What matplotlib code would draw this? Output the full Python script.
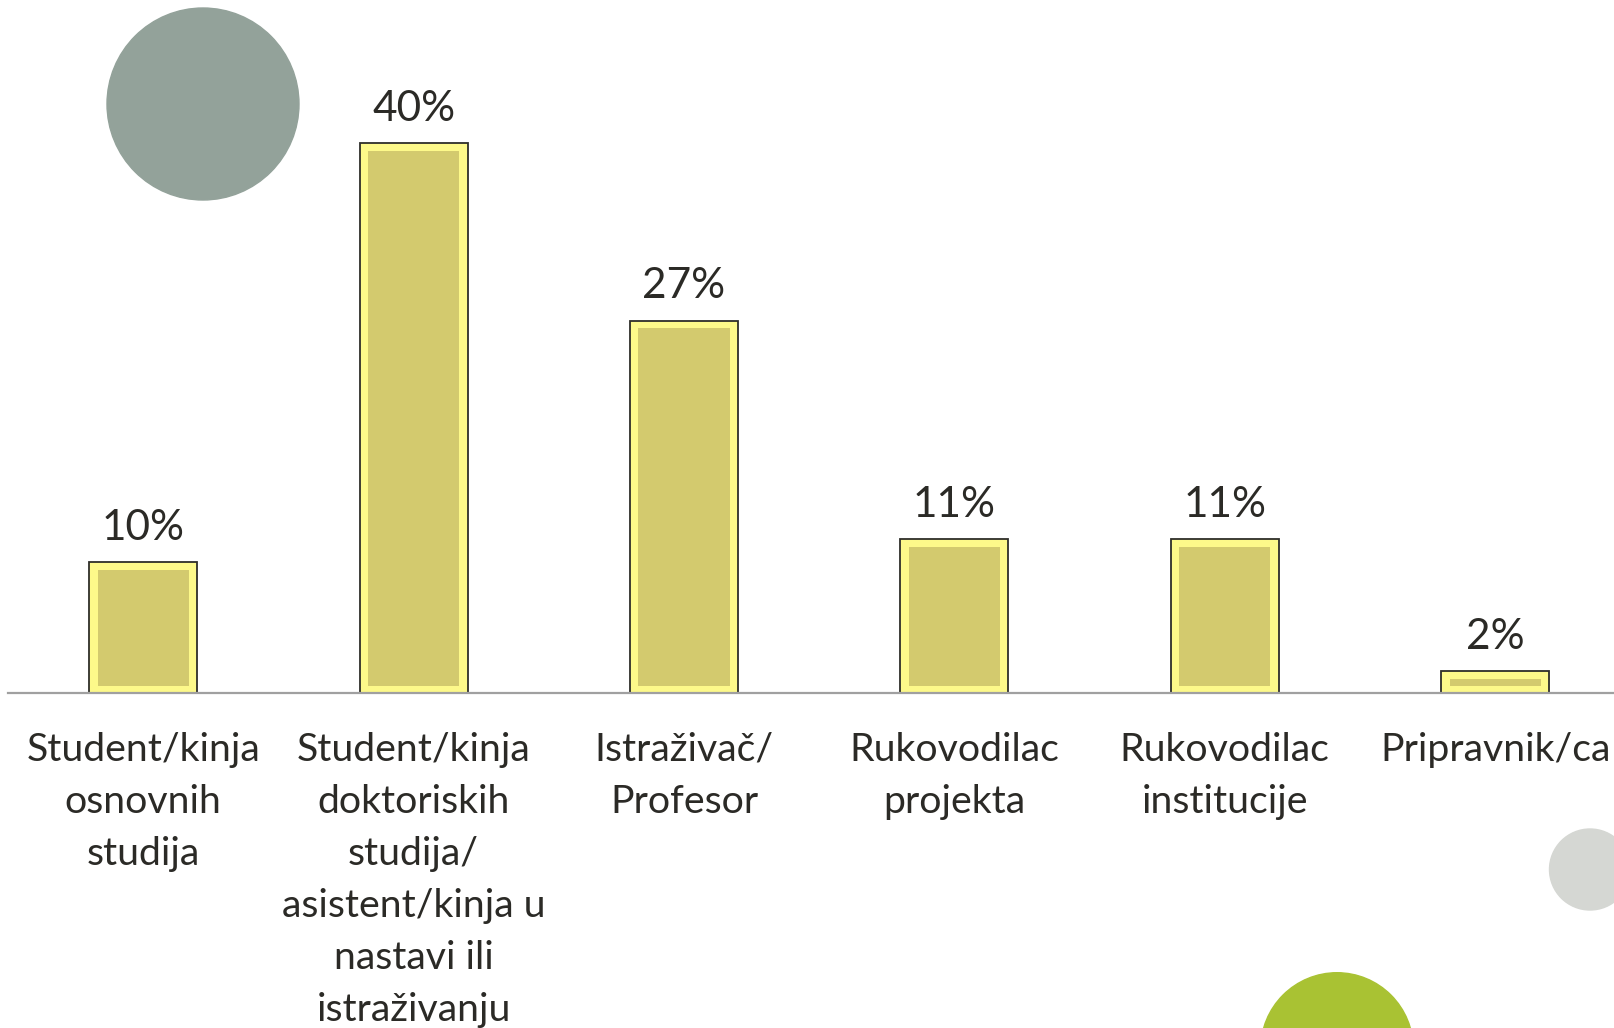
import matplotlib
matplotlib.use("Agg")
import matplotlib.pyplot as plt
from matplotlib.patches import Circle
import matplotlib.transforms as mtransforms

categories = [
    "Student/kinja\nosnovnih\nstudija",
    "Student/kinja\ndoktoriskih\nstudija/\nasistent/kinja u\nnastavi ili\nistraživanju",
    "Istraživač/\nProfesor",
    "Rukovodilac\nprojekta",
    "Rukovodilac\ninstitucije",
    "Pripravnik/ca",
]
values = [0.095, 0.40, 0.271, 0.112, 0.112, 0.016]
value_labels = ["10%", "40%", "27%", "11%", "11%", "2%"]

W, H, DPI = 1614, 1028, 100
fig = plt.figure(figsize=(W / DPI, H / DPI), dpi=DPI)
fig.patch.set_facecolor("white")

FONT = ["Lato", "DejaVu Sans"]
TXT = "#2b2a26"

base_px = 693
left_px = 8
ax = fig.add_axes([left_px / W, 1 - base_px / H, 1 - left_px / W, base_px / H])
ax.set_facecolor("none")

x = list(range(len(values)))
bw = 0.4
px_per_x = 270.4
px_per_y = 1374.0
ax.set_xlim(-0.5, -0.5 + (W - left_px) / px_per_x)
ax.set_ylim(0, base_px / px_per_y)

inset_x = 8.5 / px_per_x
inset_y = 7.5 / px_per_y

# outer bar (light yellow band + dark outline)
ax.bar(x, values, width=bw, color="#fdf98a", edgecolor="#2e2e2a", linewidth=1.3, zorder=2)
# inner fill
inner_h = [max(v - 2 * inset_y, 0.0005) for v in values]
ax.bar(x, inner_h, bottom=inset_y, width=bw - 2 * inset_x, color="#d3ca6e", edgecolor="none", zorder=3)

for xi, v, lab in zip(x, values, value_labels):
    ax.annotate(lab, (xi, v), xytext=(0, 11), textcoords="offset points",
                ha="center", va="bottom", fontsize=30.5, color=TXT, family=FONT)

trans = mtransforms.blended_transform_factory(ax.transData, ax.transAxes)
for xi, c in zip(x, categories):
    ax.annotate(c, (xi, 0), xycoords=trans, xytext=(0, -28), textcoords="offset points",
                ha="center", va="top", fontsize=28.3, color=TXT, family=FONT,
                linespacing=1.55, annotation_clip=False)

for s in ["top", "right", "left"]:
    ax.spines[s].set_visible(False)
ax.spines["bottom"].set_color("#a0a0a0")
ax.spines["bottom"].set_linewidth(1.6)
ax.spines["bottom"].set_zorder(4)
ax.set_xticks([])
ax.set_yticks([])

# decorative circles (pixel coordinates)
fig.add_artist(Circle((203, H - 104), 96, transform=None, color="#93a29a", zorder=0))
fig.add_artist(Circle((1590, H - 869.5), 40.5, transform=None, color="#d5d7d3", zorder=0))
fig.add_artist(Circle((1337, H - 1049), 76.3, transform=None, color="#a9c233", zorder=0))

fig.savefig("out.png", dpi=DPI)
